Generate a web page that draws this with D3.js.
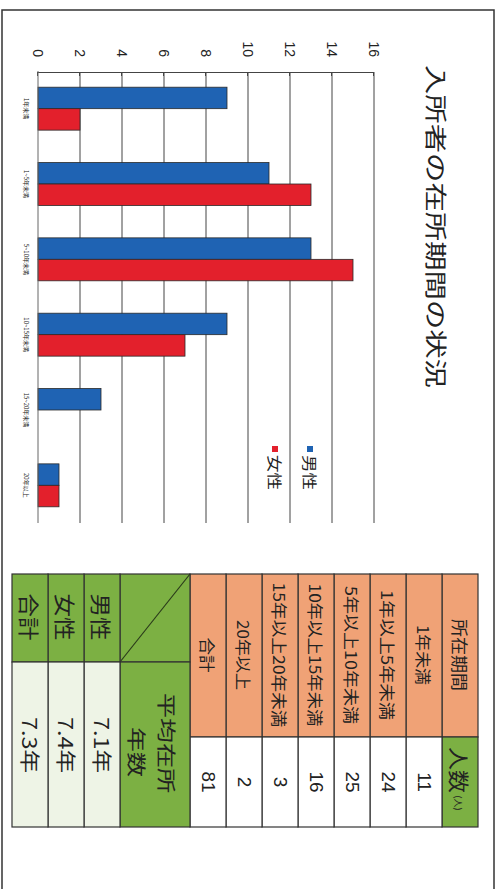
<!DOCTYPE html>
<html>
<head>
<meta charset="utf-8">
<script src="https://cdn.jsdelivr.net/npm/d3@7"></script>
<style>
  html, body { margin: 0; padding: 0; background: #fff; }
  svg { display: block; }
  text { font-family: "Noto Sans CJK JP", "Noto Sans", sans-serif; fill: #222; }
</style>
</head>
<body>
<script>
// ---- data ----
const categories = ["1年未満", "1~5年未満", "5~10年未満", "10~15年未満", "15~20年未満", "20年以上"];
const seriesNames = ["男性", "女性"];
const maleValues = [9, 11, 13, 9, 3, 1];
const femaleValues = [2, 13, 15, 7, 0, 1];
const valueTicks = [0, 2, 4, 6, 8, 10, 12, 14, 16];

const periodLabels = ["1年未満", "1年以上5年未満", "5年以上10年未満", "10年以上15年未満", "15年以上20年未満", "20年以上", "合計"];
const periodCounts = [11, 24, 25, 16, 3, 2, 81];
const avgLabels = ["男性", "女性", "合計"];
const avgYears = ["7.1年", "7.4年", "7.3年"];

const colors = { "男性": "#1f63b3", "女性": "#e3202c" };

// ---- page (laid out landscape, then turned a quarter clockwise) ----
const VW = 499, VH = 889;
const svg = d3.select("body").append("svg").attr("width", VW).attr("height", VH);
const page = svg.append("g").attr("transform", `translate(${VW},0) rotate(90)`);

// page frame
page.append("rect").attr("x", 10).attr("y", 5).attr("width", 900).attr("height", 492)
  .attr("fill", "none").attr("stroke", "#333").attr("stroke-width", 1.5);

// stretched text helper
function label(g, x, y, str, size, len, opts = {}) {
  const t = g.append("text").attr("x", x).attr("y", y)
    .attr("text-anchor", opts.anchor || "middle")
    .attr("dominant-baseline", "central")
    .style("font-size", size + "px")
    .text(str);
  if (len) t.attr("textLength", len).attr("lengthAdjust", "spacingAndGlyphs");
  if (opts.family) t.style("font-family", opts.family);
  return t;
}

// ---- title ----
label(page, 65, 61, "入所者の在所期間の状況", 22, 323, { anchor: "start" });

// ---- chart ----
const x0 = d3.scaleBand().domain(categories).range([71, 523]).paddingInner(0.43).paddingOuter(0.215);
const x1 = d3.scaleBand().domain(seriesNames).range([0, x0.bandwidth()]);
const y = d3.scaleLinear().domain([0, 16]).range([461, 125]);

// gridlines
page.append("g").selectAll("line").data(valueTicks.filter(d => d > 0)).join("line")
  .attr("x1", 72).attr("x2", 523)
  .attr("y1", d => y(d)).attr("y2", d => y(d))
  .attr("stroke", "#444").attr("stroke-width", 1);

// value axis
const yAxis = page.append("g").attr("transform", "translate(72,0)")
  .call(d3.axisLeft(y).tickValues(valueTicks).tickSizeInner(4).tickSizeOuter(0).tickPadding(11));
yAxis.select(".domain").attr("stroke", "#444");
yAxis.selectAll(".tick line").attr("stroke", "#444").attr("x2", 4);
yAxis.selectAll(".tick text").style("font-size", "14px").style("font-family", "'Liberation Sans', Arial, sans-serif").attr("fill", "#222");

// bars
const rows = categories.map((c, i) => ({ cat: c, values: [
  { key: "男性", v: maleValues[i] }, { key: "女性", v: femaleValues[i] }] }));
page.append("g").selectAll("g").data(rows).join("g")
  .attr("transform", d => `translate(${x0(d.cat)},0)`)
  .selectAll("rect").data(d => d.values.filter(e => e.v > 0)).join("rect")
  .attr("x", d => x1(d.key)).attr("width", x1.bandwidth())
  .attr("y", d => y(d.v)).attr("height", d => y(0) - y(d.v))
  .attr("fill", d => colors[d.key]).attr("stroke", "#2a2a2a").attr("stroke-width", 0.8);

// category axis
const xAxis = page.append("g").attr("transform", `translate(0,${y(0)})`)
  .call(d3.axisBottom(x0).tickSize(0).tickPadding(10));
xAxis.select(".domain").attr("stroke", "#666").attr("d", "M71,0H523");
xAxis.selectAll(".tick text").style("font-size", "6px").attr("fill", "#333");

// legend
const legend = page.append("g");
seriesNames.forEach((s, i) => {
  const ly = 189 + i * 35;
  legend.append("rect").attr("x", 446).attr("y", ly - 3).attr("width", 6).attr("height", 6).attr("fill", colors[s]);
  label(legend, 455, ly, s, 15, 35, { anchor: "start" });
});

// ---- period table ----
const tLeft = 574, tSplit = 737, tRight = 827;
const orange = "#f0a276", green = "#7cb043", pale = "#eef4e6";
const tbl = page.append("g");
const rowScale = d3.scaleBand().domain(["head"].concat(periodLabels)).range([21, 309]);

// header row
tbl.append("rect").attr("x", tLeft).attr("y", rowScale("head")).attr("width", tSplit - tLeft).attr("height", rowScale.bandwidth())
  .attr("fill", orange).attr("stroke", "#333").attr("stroke-width", 1.2);
tbl.append("rect").attr("x", tSplit).attr("y", rowScale("head")).attr("width", tRight - tSplit).attr("height", rowScale.bandwidth())
  .attr("fill", green).attr("stroke", "#333").attr("stroke-width", 1.2);
label(tbl, 655, rowScale("head") + rowScale.bandwidth() / 2, "所在期間", 17, 72);
label(tbl, 770, rowScale("head") + rowScale.bandwidth() / 2, "人数", 21, 46);
label(tbl, 803, rowScale("head") + rowScale.bandwidth() / 2 + 2, "(人)", 9, 15);

const labelLens = [60, 130, 138, 143, 145, 70, 35];
periodLabels.forEach((p, i) => {
  const ry = rowScale(p), h = rowScale.bandwidth(), cy = ry + h / 2;
  tbl.append("rect").attr("x", tLeft).attr("y", ry).attr("width", tSplit - tLeft).attr("height", h)
    .attr("fill", orange).attr("stroke", "#333").attr("stroke-width", 1.2);
  tbl.append("rect").attr("x", tSplit).attr("y", ry).attr("width", tRight - tSplit).attr("height", h)
    .attr("fill", "#fff").attr("stroke", "#333").attr("stroke-width", 1.2);
  label(tbl, 655, cy, p, 16, labelLens[i]);
  label(tbl, 782, cy, String(periodCounts[i]), 19, null, { family: "'Liberation Sans', Arial, sans-serif" });
});

// ---- average years table ----
const aSplit = 662;
const avg = page.append("g");
const avgRows = d3.scaleBand().domain(avgLabels).range([379, 487]);

avg.append("rect").attr("x", tLeft).attr("y", 309).attr("width", aSplit - tLeft).attr("height", 70)
  .attr("fill", green).attr("stroke", "#333").attr("stroke-width", 1.2);
avg.append("line").attr("x1", tLeft).attr("y1", 309).attr("x2", aSplit).attr("y2", 379)
  .attr("stroke", "#2a3a1a").attr("stroke-width", 1.2);
avg.append("rect").attr("x", aSplit).attr("y", 309).attr("width", tRight - aSplit).attr("height", 70)
  .attr("fill", green).attr("stroke", "#333").attr("stroke-width", 1.2);
label(avg, 743, 332, "平均在所", 19, 100);
label(avg, 752, 362, "年数", 19, 50);

avgLabels.forEach((a, i) => {
  const ry = avgRows(a), h = avgRows.bandwidth(), cy = ry + h / 2;
  avg.append("rect").attr("x", tLeft).attr("y", ry).attr("width", aSplit - tLeft).attr("height", h)
    .attr("fill", green).attr("stroke", "#333").attr("stroke-width", 1.2);
  avg.append("rect").attr("x", aSplit).attr("y", ry).attr("width", tRight - aSplit).attr("height", h)
    .attr("fill", pale).attr("stroke", "#333").attr("stroke-width", 1.2);
  label(avg, 617, cy, a, 21, 47);
  label(avg, 745, cy, avgYears[i], 20, 56);
});
</script>
</body>
</html>
